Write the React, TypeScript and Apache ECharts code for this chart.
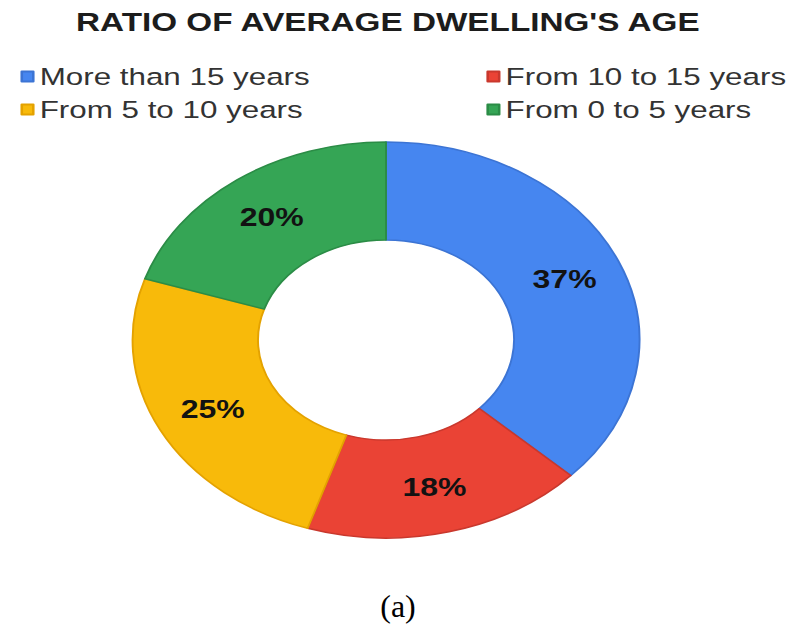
import React, { useEffect, useRef } from "react";
import * as echarts from "echarts";

const titleText = "RATIO OF AVERAGE DWELLING'S AGE";
const categories = ["More than 15 years", "From 10 to 15 years", "From 5 to 10 years", "From 0 to 5 years"];
const values = [37, 18, 25, 20];
const fillColors = ["#4686F0", "#EA4335", "#F8BA0A", "#35A555"];
const edgeColors = ["#3C74D4", "#C9382D", "#E4A200", "#2B8C46"];
const captionText = "(a)";

const SX = 1.28;
const W = 796 / SX;
const H = 627;

export default function App() {
  const ref = useRef<HTMLDivElement>(null);
  useEffect(() => {
    if (!ref.current) return;
    const chart = echarts.init(ref.current, null, { renderer: "svg" });
    const legendText = { fontFamily: "Liberation Sans", fontSize: 24.5, lineHeight: 25, color: "#333" };
    chart.setOption({
      animation: false,
      backgroundColor: "#fff",
      color: fillColors,
      title: {
        text: titleText,
        left: 298,
        textAlign: "center",
        top: 4,
        textStyle: { fontFamily: "Liberation Sans", fontWeight: "bold", fontSize: 26, color: "#1c1c1c" },
      },
      legend: [
        {
          data: [categories[0], categories[2]],
          orient: "vertical",
          left: 11,
          top: 59,
          itemGap: 8,
          itemWidth: 9,
          itemHeight: 10,
          icon: "rect",
          textStyle: legendText,
        },
        {
          data: [categories[1], categories[3]],
          orient: "vertical",
          left: 375,
          top: 59,
          itemGap: 8,
          itemWidth: 9,
          itemHeight: 10,
          icon: "rect",
          textStyle: legendText,
        },
      ],
      series: [
        {
          type: "pie",
          center: [386 / SX, 340],
          radius: [100, 198],
          startAngle: 90,
          clockwise: true,
          avoidLabelOverlap: false,
          label: {
            show: true,
            position: "inside",
            formatter: "{c}%",
            fontFamily: "Liberation Sans",
            fontWeight: "bold",
            fontSize: 25,
            color: "#121212",
          },
          labelLine: { show: false },
          emphasis: { disabled: true },
          data: categories.map((name, i) => ({
            name,
            value: values[i],
            itemStyle: { color: fillColors[i], borderColor: edgeColors[i], borderWidth: 1.5 },
          })),
        },
      ],
      graphic: [
        {
          type: "text",
          x: 398 / SX,
          y: 606,
          scaleX: 1 / SX,
          style: {
            text: captionText,
            font: "32px 'Liberation Serif'",
            fill: "#000",
            textAlign: "center",
            textVerticalAlign: "middle",
          },
        },
      ],
    });
    return () => chart.dispose();
  }, []);
  return (
    <div
      ref={ref}
      style={{
        position: "absolute",
        left: 0,
        top: 0,
        width: W,
        height: H,
        transform: `scaleX(${SX})`,
        transformOrigin: "0 0",
      }}
    />
  );
}
